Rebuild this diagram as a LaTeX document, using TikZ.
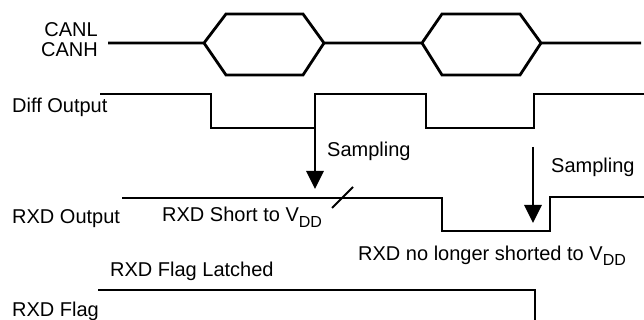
\documentclass[tikz,border=0pt]{standalone}
\usepackage{fontspec}
\setmainfont{Liberation Sans}
\usetikzlibrary{arrows.meta}
\newcommand{\vdd}{V\raisebox{-0.28em}{\fontsize{16}{16}\selectfont DD}}
\begin{document}
\begin{tikzpicture}[x=1pt,y=-1pt,
  wave/.style={line width=2.8pt, line join=miter, line cap=butt},
  lbl/.style={font=\fontsize{20}{24}\selectfont, inner sep=0pt, anchor=base west},
  samp/.style={line width=2.8pt, -{Triangle[length=18pt,width=17pt]}}]
\useasboundingbox (0,0) rectangle (644,320);
% CAN bus
\draw[wave] (108,43) -- (204,43) -- (226,14) -- (303,14) -- (324,43) -- (422,43) -- (442,14) -- (520,14) -- (541,43) -- (641,43);
\draw[wave] (204,43) -- (226,75) -- (303,75) -- (324,43);
\draw[wave] (422,43) -- (442,75) -- (520,75) -- (541,43);
% Diff output
\draw[wave] (100,94) -- (211,94) -- (211,128) -- (315,128) -- (315,94) -- (426,94) -- (426,128) -- (534,128) -- (534,94) -- (644,94);
% RXD output
\draw[wave] (122,198) -- (442,198) -- (442,231) -- (550,231) -- (550,197) -- (644,197);
\draw[line width=2pt] (332,208) -- (353,187);
% RXD flag
\draw[wave] (98,290) -- (535,290) -- (535,320);
% sampling arrows
\coordinate (s1a) at (315,128);
\coordinate (s1b) at (315,189);
\coordinate (s2a) at (533,147);
\coordinate (s2b) at (533,223);
\draw[samp] (s1a) -- (s1b);
\draw[samp] (s2a) -- (s2b);
% labels
\node[lbl, anchor=base east] (canl) at (98,37) {CANL};
\node[lbl, anchor=base east] (canh) at (98,57) {CANH};
\node[lbl] (diff) at (12,113) {Diff Output};
\node[lbl] (rxdo) at (12,223) {RXD Output};
\node[lbl] (rxdf) at (12,316) {RXD Flag};
\node[lbl] (samp1) at (327,157) {Sampling};
\node[lbl] (samp2) at (551,173) {Sampling};
\node[lbl] (short) at (162,222) {RXD Short to \vdd};
\node[lbl] (nolong) at (358,260) {RXD no longer shorted to \vdd};
\node[lbl] (latch) at (110,276) {RXD Flag Latched};
\end{tikzpicture}
\end{document}
